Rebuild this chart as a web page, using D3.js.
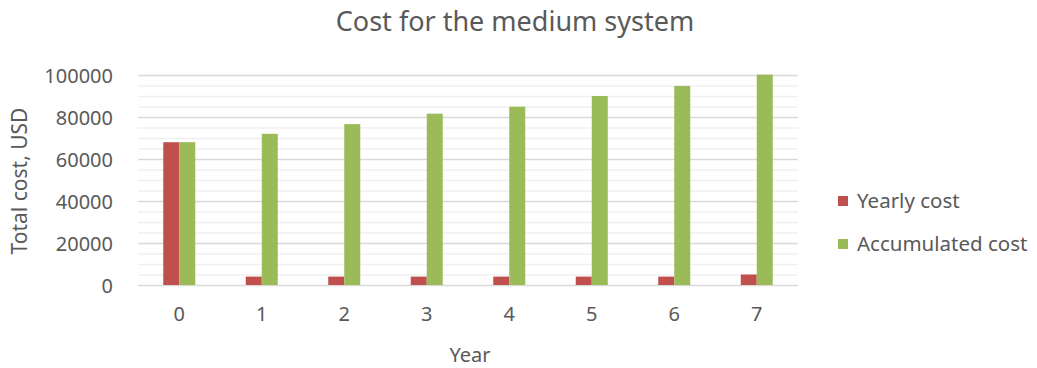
<!DOCTYPE html>
<html><head><meta charset="utf-8">
<script src="https://cdn.jsdelivr.net/npm/d3@7"></script>
<style>body{margin:0;background:#fff}svg{display:block}text{font-family:"Noto Sans",sans-serif;fill:#595959}</style>
</head><body>
<svg id="c" width="1037" height="368"></svg>
<script>
const years = ["0","1","2","3","4","5","6","7"];
const seriesNames = ["Yearly cost","Accumulated cost"];
const yearlyCost = [68000,4000,4000,4000,4000,4000,4000,5000];
const accumulatedCost = [68000,72000,76600,81600,84900,90000,94800,100200];
const seriesColors = ["#C0504D","#9BBB59"];
const yTicks = [0,20000,40000,60000,80000,100000];
const minorStep = 5000;

const svg = d3.select("#c");
const L=138,R=798,T=75,B=285;
const x0 = d3.scaleBand().domain(years).range([L,R]).paddingInner(0.612).paddingOuter(0.306);
const x1 = d3.scaleBand().domain(seriesNames).range([0,x0.bandwidth()]);
const y = d3.scaleLinear().domain([0,100000]).range([B,T]);

// minor gridlines
svg.append("g").selectAll("line").data(d3.range(0,100001,minorStep).filter(v=>v%20000!==0)).join("line")
  .attr("x1",L).attr("x2",R).attr("y1",d=>y(d)+0.5).attr("y2",d=>y(d)+0.5)
  .attr("stroke","#f0f0f0").attr("stroke-width",1.5);
// major gridlines
svg.append("g").selectAll("line").data(yTicks).join("line")
  .attr("x1",L).attr("x2",R).attr("y1",d=>y(d)+0.5).attr("y2",d=>y(d)+0.5)
  .attr("stroke","#d9d9d9").attr("stroke-width",1.5);

const data = years.map((yr,i)=>({year:yr, vals:[yearlyCost[i],accumulatedCost[i]]}));
const g = svg.append("g").selectAll("g").data(data).join("g").attr("transform",d=>`translate(${x0(d.year)},0)`);
g.selectAll("rect").data(d=>d.vals.map((v,j)=>({v,s:seriesNames[j],j}))).join("rect")
  .attr("x",d=>x1(d.s)).attr("width",x1.bandwidth())
  .attr("y",d=>y(d.v)).attr("height",d=>y(0)-y(d.v))
  .attr("fill",d=>seriesColors[d.j]);

// y axis labels
const ya = svg.append("g").attr("transform",`translate(${L-25},0)`).call(d3.axisLeft(y).tickValues(yTicks).tickSize(0).tickFormat(d3.format("d")));
ya.select(".domain").remove();
ya.selectAll("text").attr("font-size",20).attr("font-family","Noto Sans").attr("fill","#595959").attr("dy","0.35em").attr("x",0);

// x axis labels
const xa = svg.append("g").attr("transform",`translate(0,${B+19})`).call(d3.axisBottom(x0).tickSize(0));
xa.select(".domain").remove();
xa.selectAll("text").attr("font-size",20).attr("font-family","Noto Sans").attr("fill","#595959").attr("dy","0.71em");

svg.append("text").attr("x",515).attr("y",31).attr("text-anchor","middle").attr("font-size",27).text("Cost for the medium system");
svg.append("text").attr("x",470).attr("y",362).attr("text-anchor","middle").attr("font-size",20).text("Year");
svg.append("text").attr("transform","translate(27,181) rotate(-90)").attr("text-anchor","middle").attr("font-size",21).text("Total cost, USD");

const lg = svg.append("g").selectAll("g").data(seriesNames).join("g").attr("transform",(d,i)=>`translate(838,${196+i*43})`);
lg.append("rect").attr("width",10).attr("height",10).attr("fill",(d,i)=>seriesColors[i]);
lg.append("text").attr("x",19).attr("y",5).attr("dy","0.35em").attr("font-size",20.5).text(d=>d);
</script>
</body></html>
